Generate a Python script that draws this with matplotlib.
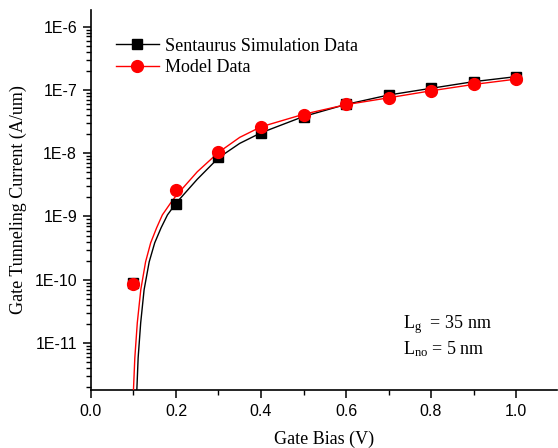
import matplotlib
matplotlib.use("Agg")
import matplotlib.pyplot as plt
from matplotlib.lines import Line2D
from matplotlib.ticker import FixedLocator, LogLocator, NullFormatter, MultipleLocator

plt.rcParams['mathtext.fontset'] = 'custom'
plt.rcParams['mathtext.rm'] = 'Liberation Serif'

# Data points (markers)
gate_bias = [0.1, 0.2, 0.3, 0.4, 0.5, 0.6, 0.7, 0.8, 0.9, 1.0]
sentaurus = [9.0e-11, 1.59e-9, 8.6e-9, 2.07e-8, 3.8e-8, 5.9e-8, 8.3e-8, 1.06e-7, 1.35e-7, 1.62e-7]
model = [8.5e-11, 2.6e-9, 1.06e-8, 2.6e-8, 4.03e-8, 5.94e-8, 7.4e-8, 9.75e-8, 1.23e-7, 1.47e-7]

# Fitted curves
sent_curve_x = [0.107, 0.111, 0.117, 0.125, 0.137, 0.150, 0.165, 0.180, 0.200, 0.250, 0.300,
                0.350, 0.400, 0.5, 0.6, 0.7, 0.8, 0.9, 1.0]
sent_curve_y = [1.27e-12, 5.86e-12, 2.09e-11, 6.95e-11, 1.92e-10, 3.84e-10, 6.63e-10, 1.06e-9, 1.62e-9,
                3.87e-9, 8.45e-9, 1.43e-8, 2.10e-8, 3.80e-8, 5.9e-8, 8.3e-8, 1.06e-7, 1.35e-7, 1.62e-7]
model_curve_x = [0.099, 0.1032, 0.109, 0.1172, 0.1285, 0.1405, 0.1545, 0.168, 0.187, 0.200, 0.250,
                 0.300, 0.350, 0.400, 0.5, 0.6, 0.7, 0.8, 0.9, 1.0]
model_curve_y = [1.27e-12, 5.86e-12, 2.09e-11, 6.95e-11, 1.92e-10, 3.84e-10, 6.63e-10, 1.06e-9, 1.62e-9,
                 2.12e-9, 5.08e-9, 1.03e-8, 1.78e-8, 2.61e-8, 4.12e-8, 5.85e-8, 7.5e-8, 9.68e-8,
                 1.22e-7, 1.48e-7]

y_ticks = [1e-11, 1e-10, 1e-9, 1e-8, 1e-7, 1e-6]
y_tick_labels = ["1E-11", "1E-10", "1E-9", "1E-8", "1E-7", "1E-6"]
x_ticks = [0.0, 0.2, 0.4, 0.6, 0.8, 1.0]
x_tick_labels = ["0.0", "0.2", "0.4", "0.6", "0.8", "1.0"]

fig = plt.figure(figsize=(5.58, 4.48), dpi=100)
ax = fig.add_axes([0.163, 0.129, 0.835, 0.849])

ax.plot(sent_curve_x, sent_curve_y, color='black', lw=1.0, zorder=2)
ax.plot(model_curve_x, model_curve_y, color='red', lw=1.0, zorder=3)
ax.plot(gate_bias, sentaurus, ls='none', marker='s', ms=7.5, color='black', zorder=4)
ax.plot(gate_bias, model, ls='none', marker='o', ms=8.5, color='red', zorder=5)

ax.set_yscale('log')
ax.set_xlim(0.0, 1.096)
ax.set_ylim(1.8e-12, 1.84e-6)

ax.yaxis.set_major_locator(FixedLocator(y_ticks))
ax.set_yticklabels(y_tick_labels, family='Liberation Sans', fontsize=11.5)
ax.yaxis.set_minor_locator(LogLocator(base=10, subs=range(2, 10), numticks=20))
ax.yaxis.set_minor_formatter(NullFormatter())
ax.set_xticks(x_ticks)
ax.set_xticklabels(x_tick_labels, family='Liberation Sans', fontsize=11.5)
ax.xaxis.set_minor_locator(MultipleLocator(0.1))

ax.tick_params(which='major', direction='out', length=6, width=1.1, color='black')
ax.tick_params(which='minor', direction='out', length=3.5, width=1.0, color='black')
ax.tick_params(axis='both', which='major', pad=4)

for s in ['top', 'right']:
    ax.spines[s].set_visible(False)
for s in ['left', 'bottom']:
    ax.spines[s].set_linewidth(1.2)

ax.set_xlabel("Gate Bias (V)", family='Liberation Serif', fontsize=13, labelpad=8)
ax.set_ylabel("Gate Tunneling Current (A/um)", family='Liberation Serif', fontsize=13, labelpad=5)

handles = [
    Line2D([], [], color='black', lw=1.0, marker='s', ms=7.5),
    Line2D([], [], color='red', lw=1.0, marker='o', ms=8.5),
]
leg = ax.legend(handles, ["Sentaurus Simulation Data", "Model Data"], loc='upper left',
                bbox_to_anchor=(0.03, 0.955), frameon=False,
                prop={'family': 'Liberation Serif', 'size': 13},
                handlelength=2.4, handletextpad=0.35, labelspacing=0.25, borderaxespad=0.2)

ax.text(0.67, 0.142, r"$\mathrm{L_g}$  = 35 nm", transform=ax.transAxes,
        family='Liberation Serif', fontsize=13, va='bottom')
ax.text(0.67, 0.081, r"$\mathrm{L_{no}}$ = 5 nm", transform=ax.transAxes,
        family='Liberation Serif', fontsize=13, va='bottom')

fig.savefig("out.png", dpi=100)
